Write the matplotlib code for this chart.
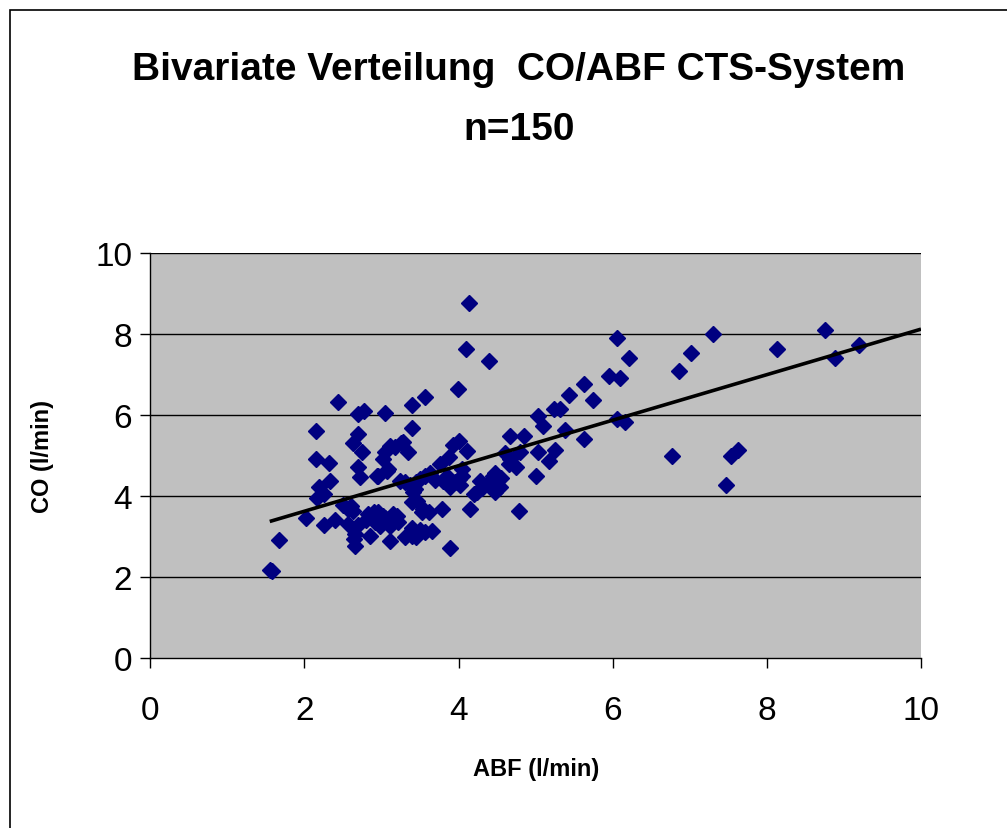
import numpy as np
import matplotlib.pyplot as plt
from matplotlib.patches import Rectangle

# ABF / CO readings (l/min)
abf = [1.55, 1.58, 1.67, 2.02, 2.15, 2.15, 2.16, 2.19, 2.25, 2.33,
       2.25, 2.32, 2.40, 2.44, 2.50, 2.57, 2.63, 2.57, 2.63, 2.70,
       2.70, 2.77, 2.75, 2.70, 2.72, 2.66, 2.64, 2.66, 2.70, 2.83,
       2.85, 2.94, 2.90, 3.02, 3.15, 2.98, 3.11, 3.22, 3.11, 3.39,
       3.56, 3.65, 3.89, 3.05, 3.11, 3.28, 3.05, 3.02, 3.35, 3.08,
       3.40, 3.39, 3.56, 3.99, 4.09, 4.14, 4.39, 4.00, 3.93, 4.11,
       3.88, 3.76, 3.63, 3.50, 3.24, 3.37, 3.80, 3.89, 4.00, 4.04,
       4.02, 3.41, 3.46, 3.54, 3.61, 3.78, 4.15, 4.28, 4.24, 4.41,
       4.47, 4.47, 4.54, 4.67, 4.85, 4.67, 4.74, 4.80, 4.78, 5.00,
       5.03, 5.25, 5.17, 5.03, 5.10, 5.38, 5.63, 5.24, 5.31, 5.43,
       5.63, 5.74, 5.95, 6.09, 6.06, 6.21, 6.06, 6.16, 6.77, 6.86,
       7.02, 7.30, 7.47, 7.54, 7.63, 8.13, 8.76, 8.89, 9.19, 2.80,
       2.95, 3.05, 3.15, 3.20, 2.92, 3.30, 3.40, 3.45, 3.50, 3.30,
       3.43, 3.56, 3.52, 3.39, 2.96, 3.07, 3.18, 3.25, 2.60, 3.70,
       3.85, 3.95, 4.05, 4.30, 4.45, 4.55, 4.60, 4.65, 3.45, 4.20]
co = [2.18, 2.14, 2.91, 3.45, 5.61, 4.91, 3.94, 4.21, 4.05, 4.36,
      3.29, 4.81, 3.41, 6.33, 3.78, 3.68, 3.64, 3.31, 5.31, 5.53,
      6.02, 6.11, 5.08, 4.71, 4.46, 3.06, 2.94, 2.77, 3.28, 3.56,
      3.02, 4.49, 3.60, 3.51, 3.56, 3.27, 3.27, 3.35, 2.90, 3.02,
      3.10, 3.14, 2.71, 6.05, 5.24, 5.33, 5.08, 4.91, 5.08, 4.67,
      5.68, 6.25, 6.44, 6.64, 7.63, 8.76, 7.34, 5.35, 5.26, 5.10,
      4.97, 4.79, 4.58, 4.42, 4.38, 4.26, 4.38, 4.21, 4.42, 4.67,
      4.26, 4.09, 3.88, 3.68, 3.60, 3.68, 3.68, 4.38, 4.09, 4.38,
      4.09, 4.58, 4.21, 5.47, 5.47, 4.91, 4.71, 5.08, 3.62, 4.49,
      5.08, 5.14, 4.86, 5.98, 5.74, 5.64, 5.41, 6.16, 6.16, 6.49,
      6.77, 6.38, 6.97, 6.91, 7.89, 7.41, 5.90, 5.82, 4.98, 7.08,
      7.52, 8.01, 4.27, 5.00, 5.14, 7.63, 8.11, 7.40, 7.74, 3.40,
      3.60, 3.45, 3.40, 3.50, 3.35, 3.00, 3.20, 3.00, 3.15, 4.35,
      4.17, 4.50, 3.60, 3.84, 4.50, 4.62, 5.20, 5.30, 3.75, 4.40,
      4.50, 4.35, 4.50, 4.20, 4.50, 4.45, 5.05, 4.80, 4.35, 4.05]

# linear trendline shown in the chart
trend_slope = 0.562
trend_intercept = 2.50

ticks = [0, 2, 4, 6, 8, 10]

plt.rcParams['font.family'] = ['Liberation Sans', 'DejaVu Sans']

fig = plt.figure(figsize=(10.07, 8.29), dpi=100)
W, H = 1007, 829
ax = fig.add_axes([150.3 / W, (H - 659) / H, (921 - 150.3) / W, (659 - 254) / H])
ax.set_facecolor('#C0C0C0')

# outer chart border
fig.patches.append(Rectangle((10 / W, -0.1), 1.2, (H - 11) / H + 0.1,
                             transform=fig.transFigure, fill=False,
                             edgecolor='black', linewidth=1.2))

for t in ticks[1:]:
    ax.axhline(t, color='black', linewidth=1.0, zorder=1)

ax.plot(abf, co, linestyle='none', marker='D', markersize=8.5,
        color='#000080', markeredgecolor='#000080', zorder=3)

tx = np.array([min(abf), 10])
ax.plot(tx, trend_intercept + trend_slope * tx, color='black',
        linewidth=2.6, zorder=4, solid_capstyle='butt')

ax.set_xlim(0, 10)
ax.set_ylim(0, 10)
ax.set_xticks(ticks)
ax.set_yticks(ticks)
ax.tick_params(direction='out', length=7, width=1, labelsize=24, pad=6)
ax.tick_params(axis='x', pad=20)
for s in ['top', 'right']:
    ax.spines[s].set_visible(False)
for s in ['left', 'bottom']:
    ax.spines[s].set_linewidth(1.0)

ax.set_xlabel('ABF (l/min)', fontsize=17, fontweight='bold', labelpad=22)
ax.set_ylabel('CO (l/min)', fontsize=17, fontweight='bold', labelpad=30)

fig.text(519 / W, 1 - 70 / H, 'Bivariate Verteilung  CO/ABF CTS-System',
         ha='center', va='center', fontsize=28, fontweight='bold')
fig.text(519 / W, 1 - 130 / H, 'n=150', ha='center', va='center',
         fontsize=28, fontweight='bold')

fig.savefig('out.png', dpi=100)
